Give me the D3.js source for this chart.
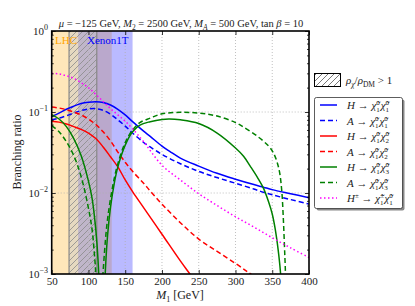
<!DOCTYPE html>
<html>
<head>
<meta charset="utf-8">
<script src="https://cdn.jsdelivr.net/npm/d3@7"></script>
<style>
  body { margin: 0; background: #fff; }
  text { font-family: "Liberation Serif", "DejaVu Serif", serif; }
</style>
</head>
<body>
<svg id="chart" width="415" height="306"></svg>
<script>
// axis ticks
let xTicks = [50, 100, 150, 200, 250, 300, 350, 400]
let yTicks = [1e-3, 1e-2, 1e-1, 1]
let yTickExps = ["\u22123", "\u22122", "\u22121", "0"]

// excluded / probed regions (GeV)
let lhcRange = [50, 131.7]
let xenonRange = [86, 160]
let hatchRange = [73.6, 111.3]

// H -> chi1 chi1 (blue solid)
let hN11M = [50, 60, 70, 80, 90, 100, 110, 120, 130, 140, 150, 160, 175, 184, 200, 211, 225, 250, 275, 300, 325, 338, 350, 375, 400]
let hN11BR = [0.088, 0.097, 0.108, 0.118, 0.127, 0.132, 0.134, 0.131, 0.122, 0.108, 0.092, 0.076, 0.058, 0.05, 0.038, 0.0325, 0.027, 0.0215, 0.0175, 0.0148, 0.0127, 0.0118, 0.011, 0.0098, 0.00875]
// A -> chi1 chi1 (blue dashed)
let aN11M = [50, 60, 70, 80, 90, 100, 110, 120, 130, 140, 150, 160, 175, 184, 200, 225, 250, 275, 300, 325, 338, 350, 375, 400]
let aN11BR = [0.08, 0.084, 0.09, 0.097, 0.104, 0.109, 0.11, 0.105, 0.094, 0.08, 0.067, 0.055, 0.042, 0.037, 0.03, 0.023, 0.0185, 0.0155, 0.0132, 0.0112, 0.0102, 0.0095, 0.0083, 0.0073]
// H -> chi1 chi2 (red solid)
let hN12M = [50, 60, 70, 80, 90, 100, 110, 120, 130, 140, 150, 160, 175, 200, 225, 238, 250]
let hN12BR = [0.077, 0.075, 0.071, 0.066, 0.061, 0.055, 0.047, 0.037, 0.028, 0.021, 0.0145, 0.0104, 0.0066, 0.0031, 0.00145, 0.001, 0.0007]
// A -> chi1 chi2 (red dashed)
let aN12M = [50, 60, 70, 80, 90, 100, 110, 120, 130, 140, 150, 160, 175, 184, 200, 225, 250, 275, 300, 316, 330]
let aN12BR = [0.115, 0.112, 0.107, 0.1, 0.092, 0.082, 0.07, 0.057, 0.044, 0.032, 0.024, 0.0185, 0.0132, 0.0106, 0.0073, 0.0043, 0.0027, 0.0019, 0.00135, 0.00107, 0.00088]
// H -> chi1 chi3 (green solid)
let hN13M = [50, 60, 70, 80, 90, 100, 105, 110, 113, 116, 118, 120, 123, 126, 130, 135, 140, 150, 160, 170, 184, 200, 210, 225, 250, 275, 300, 311, 320, 330, 338, 345, 350, 354, 358, 361, 363, 365]
let hN13BR = [0.093, 0.082, 0.066, 0.047, 0.029, 0.014, 0.0085, 0.0035, 0.0015, 0.0003, 0.00001, 0.0002, 0.0011, 0.003, 0.0067, 0.013, 0.021, 0.039, 0.057, 0.069, 0.076, 0.081, 0.082, 0.08, 0.072, 0.055, 0.036, 0.0285, 0.0215, 0.0155, 0.0115, 0.0078, 0.0055, 0.0036, 0.002, 0.0011, 0.0005, 0.00005]
// A -> chi1 chi3 (green dashed)
let aN13M = [50, 60, 70, 80, 90, 100, 105, 108, 110, 113, 115, 117, 120, 125, 130, 135, 140, 150, 160, 170, 184, 200, 225, 250, 275, 300, 311, 330, 345, 351, 356, 360, 363, 365, 367, 368, 369]
let aN13BR = [0.068, 0.057, 0.043, 0.029, 0.016, 0.0065, 0.0035, 0.0018, 0.001, 0.0002, 0.00001, 0.0004, 0.0011, 0.004, 0.0085, 0.015, 0.023, 0.042, 0.06, 0.074, 0.084, 0.095, 0.099, 0.097, 0.089, 0.074, 0.065, 0.05, 0.038, 0.032, 0.025, 0.018, 0.0105, 0.005, 0.0018, 0.001, 0.0003]
// H+- -> chi+ chi1 (magenta dotted)
let hChM = [50, 60, 70, 80, 90, 100, 110, 120, 130, 140, 150, 160, 175, 200, 225, 250, 275, 300, 325, 350, 375, 400]
let hChBR = [0.3, 0.295, 0.28, 0.26, 0.23, 0.2, 0.165, 0.135, 0.11, 0.092, 0.077, 0.062, 0.043, 0.022, 0.0145, 0.0098, 0.007, 0.0051, 0.0038, 0.0028, 0.0021, 0.0016]

let series = [
  {m: hN11M, br: hN11BR, color: "#0000ff", dash: null, parent: "H", sup: "0", idx: ["1", "1"]},
  {m: aN11M, br: aN11BR, color: "#0000ff", dash: "5,3", parent: "A", sup: "0", idx: ["1", "1"]},
  {m: hN12M, br: hN12BR, color: "#ff0000", dash: null, parent: "H", sup: "0", idx: ["1", "2"]},
  {m: aN12M, br: aN12BR, color: "#ff0000", dash: "5,3", parent: "A", sup: "0", idx: ["1", "2"]},
  {m: hN13M, br: hN13BR, color: "#008000", dash: null, parent: "H", sup: "0", idx: ["1", "3"]},
  {m: aN13M, br: aN13BR, color: "#008000", dash: "5,3", parent: "A", sup: "0", idx: ["1", "3"]},
  {m: hChM, br: hChBR, color: "#ff00ff", dash: "1.5,2.5", parent: "H", parentSup: "\u00b1", sup: "\u00b1", sup2: "0", idx: ["1", "1"]}
]

let svg = d3.select("#chart")
let pLeft = 51.7, pRight = 309, pTop = 31, pBottom = 274

let x = d3.scaleLinear().domain([50, 400]).range([pLeft, pRight])
let y = d3.scaleLog().domain([1e-3, 1]).range([pBottom, pTop])

let defs = svg.append("defs")
defs.append("clipPath").attr("id", "plotclip")
  .append("rect")
  .attr("x", pLeft).attr("y", pTop)
  .attr("width", pRight - pLeft).attr("height", pBottom - pTop)

let hatch = defs.append("pattern")
  .attr("id", "hatch")
  .attr("patternUnits", "userSpaceOnUse")
  .attr("width", 6).attr("height", 6)
hatch.append("path")
  .attr("d", "M-1,1 L1,-1 M0,6 L6,0 M5,7 L7,5")
  .attr("stroke", "#8a8a8a")
  .attr("stroke-width", 0.8)

let legHatch = defs.append("pattern")
  .attr("id", "leghatch")
  .attr("patternUnits", "userSpaceOnUse")
  .attr("width", 6).attr("height", 6)
legHatch.append("path")
  .attr("d", "M-1,1 L1,-1 M0,6 L6,0 M5,7 L7,5")
  .attr("stroke", "#555")
  .attr("stroke-width", 0.8)

let plot = svg.append("g").attr("clip-path", "url(#plotclip)")

// shaded regions
plot.append("rect")
  .attr("x", x(lhcRange[0])).attr("y", pTop)
  .attr("width", x(lhcRange[1]) - x(lhcRange[0])).attr("height", pBottom - pTop)
  .style("fill", "#ffa500").style("fill-opacity", 0.27)
plot.append("rect")
  .attr("x", x(xenonRange[0])).attr("y", pTop)
  .attr("width", x(xenonRange[1]) - x(xenonRange[0])).attr("height", pBottom - pTop)
  .style("fill", "#0000ff").style("fill-opacity", 0.27)
plot.append("rect")
  .attr("x", x(hatchRange[0])).attr("y", pTop)
  .attr("width", x(hatchRange[1]) - x(hatchRange[0])).attr("height", pBottom - pTop)
  .style("fill", "#c8c8c8").style("fill-opacity", 0.45)
plot.append("rect")
  .attr("x", x(hatchRange[0])).attr("y", pTop)
  .attr("width", x(hatchRange[1]) - x(hatchRange[0])).attr("height", pBottom - pTop)
  .style("fill", "url(#hatch)")
hatchRange.forEach(v => {
  plot.append("line")
    .attr("x1", x(v)).attr("x2", x(v)).attr("y1", pTop).attr("y2", pBottom)
    .style("stroke", "#888").style("stroke-width", 1.2)
})

// grid
xTicks.slice(1, -1).forEach(v => {
  plot.append("line")
    .attr("x1", x(v)).attr("x2", x(v)).attr("y1", pTop).attr("y2", pBottom)
    .style("stroke", "#b0b0b0").style("stroke-width", 0.8).style("stroke-dasharray", "1,2")
})
yTicks.slice(1, -1).forEach(v => {
  plot.append("line")
    .attr("x1", pLeft).attr("x2", pRight).attr("y1", y(v)).attr("y2", y(v))
    .style("stroke", "#b0b0b0").style("stroke-width", 0.8).style("stroke-dasharray", "1,2")
})

// region labels
plot.append("text").attr("x", 55).attr("y", 44)
  .text("LHC").style("font-size", "11px").style("fill", "#ffa500")
plot.append("text").attr("x", 87).attr("y", 44)
  .text("Xenon1T").style("font-size", "11px").style("fill", "#0000ff")

// curves
let line = d3.line()
  .x(d => x(d[0]))
  .y(d => y(d[1]))
  .curve(d3.curveCatmullRom.alpha(0.5))

series.forEach(s => {
  let pts = s.m.map((m, i) => [m, s.br[i]])
  plot.append("path")
    .attr("d", line(pts))
    .style("fill", "none")
    .style("stroke", s.color)
    .style("stroke-width", 1.5)
    .style("stroke-dasharray", s.dash)
})

// axes with inward ticks
let axB = d3.axisBottom(x).tickValues(xTicks).tickSize(-4).tickPadding(3).tickFormat(d3.format("d"))
let axT = d3.axisTop(x).tickValues(xTicks).tickSize(-4).tickFormat("")
let minorY = []
for (let e = -3; e < 0; e++) for (let k = 2; k <= 9; k++) minorY.push(k * Math.pow(10, e))
let axL = d3.axisLeft(y).tickValues(yTicks).tickSize(-4).tickFormat("")
let axR = d3.axisRight(y).tickValues(yTicks).tickSize(-4).tickFormat("")
let axLm = d3.axisLeft(y).tickValues(minorY).tickSize(-2).tickFormat("")
let axRm = d3.axisRight(y).tickValues(minorY).tickSize(-2).tickFormat("")

let gB = svg.append("g").attr("transform", `translate(0,${pBottom})`).call(axB)
svg.append("g").attr("transform", `translate(0,${pTop})`).call(axT)
svg.append("g").attr("transform", `translate(${pLeft},0)`).call(axL)
svg.append("g").attr("transform", `translate(${pRight},0)`).call(axR)
svg.append("g").attr("transform", `translate(${pLeft},0)`).call(axLm)
svg.append("g").attr("transform", `translate(${pRight},0)`).call(axRm)
svg.selectAll(".domain").remove()
svg.selectAll(".tick line").style("stroke", "#000").style("stroke-width", 0.8)
gB.selectAll("text").style("font-size", "11px").style("font-family", "Liberation Serif, serif").style("fill", "#222")

// frame
svg.append("rect")
  .attr("x", pLeft).attr("y", pTop)
  .attr("width", pRight - pLeft).attr("height", pBottom - pTop)
  .style("fill", "none").style("stroke", "#000").style("stroke-width", 1.6)

// y tick labels 10^n
yTicks.forEach((v, i) => {
  let t = svg.append("text")
    .attr("x", 48).attr("y", y(v) + 4)
    .attr("text-anchor", "end")
    .style("font-size", "11px").style("fill", "#222")
  t.append("tspan").text("10")
  t.append("tspan").text(yTickExps[i]).attr("dy", -5).style("font-size", "8px")
})

// axis titles
svg.append("text")
  .attr("transform", "translate(21,152) rotate(-90)")
  .attr("text-anchor", "middle")
  .style("font-size", "12px").style("fill", "#222")
  .text("Branching ratio")

let xl = svg.append("text")
  .attr("x", 180).attr("y", 299)
  .attr("text-anchor", "middle")
  .style("font-size", "12px").style("fill", "#222")
xl.append("tspan").text("M").style("font-style", "italic")
xl.append("tspan").text("1").attr("dy", 3).style("font-size", "8px")
xl.append("tspan").text(" [GeV]").attr("dy", -3)

// title
let tt = svg.append("text")
  .attr("x", 181).attr("y", 27)
  .attr("text-anchor", "middle")
  .style("font-size", "10.5px").style("fill", "#222")
tt.append("tspan").text("\u03bc").style("font-style", "italic")
tt.append("tspan").text(" = \u2212125 GeV, ")
tt.append("tspan").text("M").style("font-style", "italic")
tt.append("tspan").text("2").attr("dy", 2.5).style("font-size", "7.5px")
tt.append("tspan").text(" = 2500 GeV, ").attr("dy", -2.5)
tt.append("tspan").text("M").style("font-style", "italic")
tt.append("tspan").text("A").attr("dy", 2.5).style("font-size", "7.5px").style("font-style", "italic")
tt.append("tspan").text(" = 500 GeV, tan ").attr("dy", -2.5)
tt.append("tspan").text("\u03b2").style("font-style", "italic")
tt.append("tspan").text(" = 10")

// hatch legend
svg.append("rect")
  .attr("x", 314.5).attr("y", 73.5).attr("width", 26).attr("height", 13)
  .style("fill", "url(#leghatch)").style("stroke", "#000").style("stroke-width", 1)
let hl = svg.append("text").attr("x", 346).attr("y", 84)
  .style("font-size", "11px").style("fill", "#222")
hl.append("tspan").text("\u03c1").style("font-style", "italic")
hl.append("tspan").text("\u03c7").attr("dy", 2.5).style("font-size", "7.5px").style("font-style", "italic")
hl.append("tspan").text("/").attr("dy", -2.5)
hl.append("tspan").text("\u03c1").style("font-style", "italic")
hl.append("tspan").text("DM").attr("dy", 2.5).style("font-size", "7.5px")
hl.append("tspan").text(" > 1").attr("dy", -2.5)

// channel legend
let lx = 314.5, ly = 97.5, lw = 88, lh = 111
svg.append("rect")
  .attr("x", lx + 2).attr("y", ly + 2).attr("width", lw).attr("height", lh).attr("rx", 2)
  .style("fill", "#888")
svg.append("rect")
  .attr("x", lx).attr("y", ly).attr("width", lw).attr("height", lh).attr("rx", 2)
  .style("fill", "#fff").style("stroke", "#333").style("stroke-width", 0.8)

function chi(t, sup, sub) {
  t.append("tspan").text("\u03c7\u0303").style("font-style", "italic")
  t.append("tspan").text(sup).attr("dy", -4).style("font-size", "7px")
  t.append("tspan").text(sub).attr("dx", sup === "\u00b1" ? -4 : -3.5).attr("dy", 7).style("font-size", "7px")
  t.append("tspan").text("\u200a").attr("dy", -3)
}

series.forEach((s, i) => {
  let yy = 105 + i * 15.5
  svg.append("line")
    .attr("x1", 320).attr("x2", 337).attr("y1", yy).attr("y2", yy)
    .style("stroke", s.color).style("stroke-width", 1.5)
    .style("stroke-dasharray", s.dash)
  let t = svg.append("text").attr("x", 347).attr("y", yy + 4)
    .style("font-size", "11px").style("fill", "#222")
  t.append("tspan").text(s.parent).style("font-style", "italic")
  if (s.parentSup) {
    t.append("tspan").text(s.parentSup).attr("dy", -4).style("font-size", "7px")
    t.append("tspan").text(" \u2192 ").attr("dy", 4)
  } else {
    t.append("tspan").text(" \u2192 ")
  }
  chi(t, s.sup, s.idx[0])
  chi(t, s.sup2 || s.sup, s.idx[1])
})
</script>
</body>
</html>
